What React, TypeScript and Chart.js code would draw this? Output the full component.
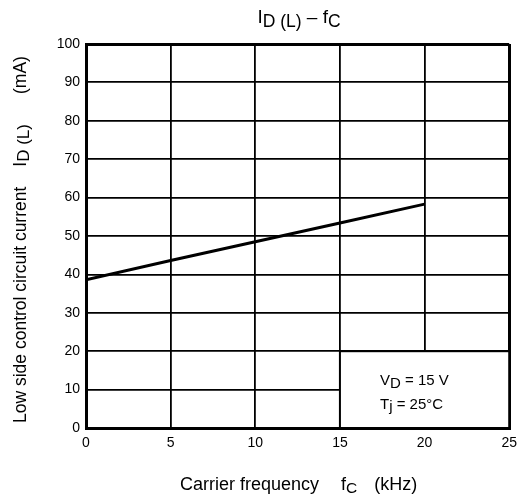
import React, { useEffect, useRef } from "react";
import { Chart, registerables } from "chart.js";
Chart.register(...registerables);

const freqKHz = [0, 5, 10, 15, 20];
const currentMA = [38.6, 43.6, 48.5, 53.4, 58.3];
const xTicks = [0, 5, 10, 15, 20, 25];
const yTicks = [0, 10, 20, 30, 40, 50, 60, 70, 80, 90, 100];

const FONT = "Liberation Sans, Arial, sans-serif";

type Seg = { t?: string; sub?: boolean; gap?: number };

function segsWidth(ctx: CanvasRenderingContext2D, segs: Seg[], size: number, subSize: number) {
  let total = 0;
  for (const s of segs) {
    if (s.gap !== undefined) { total += s.gap; continue; }
    ctx.font = `${s.sub ? subSize : size}px ${FONT}`;
    total += ctx.measureText(s.t!).width;
  }
  return total;
}

function drawSegs(ctx: CanvasRenderingContext2D, segs: Seg[], x: number, y: number, size: number, subSize: number, subOff: number, align: "left" | "center") {
  let cx = align === "center" ? x - segsWidth(ctx, segs, size, subSize) / 2 : x;
  ctx.textAlign = "left";
  ctx.textBaseline = "alphabetic";
  for (const s of segs) {
    if (s.gap !== undefined) { cx += s.gap; continue; }
    ctx.font = `${s.sub ? subSize : size}px ${FONT}`;
    ctx.fillText(s.t!, cx, s.sub ? y + subOff : y);
    cx += ctx.measureText(s.t!).width;
  }
}

const textPlugin = {
  id: "textPlugin",
  afterDraw(chart: any) {
    const ctx: CanvasRenderingContext2D = chart.ctx;
    const xs = chart.scales.x;
    const ys = chart.scales.y;
    ctx.save();
    ctx.fillStyle = "#000";
    // title
    drawSegs(ctx, [{ t: "I" }, { t: "D (L)", sub: true }, { t: " \u2013 f" }, { t: "C", sub: true }], 299, 23, 19, 17.5, 4, "center");
    // x label
    drawSegs(ctx, [{ t: "Carrier frequency" }, { gap: 22 }, { t: "f" }, { t: "C", sub: true }, { gap: 17 }, { t: "(kHz)" }], 180, 490, 18, 15.5, 3, "left");
    // y label
    ctx.save();
    ctx.translate(26, 423);
    ctx.rotate(-Math.PI / 2);
    drawSegs(ctx, [{ t: "Low side control circuit current" }, { gap: 20 }, { t: "I" }, { t: "D (L)", sub: true }, { gap: 30 }, { t: "(mA)" }], 0, 0, 17.5, 17, 3, "left");
    ctx.restore();
    // condition box
    const bx0 = xs.getPixelForValue(15);
    const bx1 = xs.getPixelForValue(25);
    const by0 = ys.getPixelForValue(20);
    const by1 = ys.getPixelForValue(0);
    ctx.fillStyle = "#fff";
    ctx.fillRect(bx0, by0, bx1 - bx0, by1 - by0);
    ctx.strokeStyle = "#000";
    ctx.lineWidth = 2;
    ctx.strokeRect(bx0, by0, bx1 - bx0, by1 - by0);
    ctx.fillStyle = "#000";
    drawSegs(ctx, [{ t: "V" }, { t: "D", sub: true }, { t: " = 15 V" }], 380, 385, 15, 15, 3, "left");
    drawSegs(ctx, [{ t: "T" }, { t: "j", sub: true }, { t: " = 25\u00B0C" }], 380, 409, 15, 15, 2, "left");
    ctx.restore();
  },
};

export default function App() {
  const ref = useRef<HTMLCanvasElement>(null);
  useEffect(() => {
    document.body.style.margin = "0";
    const chart = new Chart(ref.current!, {
      type: "line",
      data: {
        datasets: [
          {
            data: freqKHz.map((f, i) => ({ x: f, y: currentMA[i] })),
            borderColor: "#000",
            borderWidth: 3,
            pointRadius: 0,
            tension: 0,
          },
        ],
      },
      options: {
        animation: false,
        responsive: false,
        devicePixelRatio: 1,
        layout: { padding: { left: 0, top: 44, right: 12, bottom: 0 } },
        plugins: { legend: { display: false }, title: { display: false }, tooltip: { enabled: false } },
        scales: {
          x: {
            type: "linear",
            min: 0,
            max: 25,
            afterFit: (s: any) => { s.height = 74; },
            afterBuildTicks: (s: any) => { s.ticks = xTicks.map((v) => ({ value: v })); },
            grid: {
              color: "#000",
              lineWidth: (c: any) => (c.tick && (c.tick.value === 0 || c.tick.value === 25) ? 3 : 1.8),
              drawTicks: false,
            },
            border: { display: true, color: "#000", width: 3 },
            ticks: { color: "#000", font: { family: FONT, size: 14 }, padding: 7, maxRotation: 0 },
          },
          y: {
            type: "linear",
            min: 0,
            max: 100,
            afterFit: (s: any) => { s.width = 86; },
            afterBuildTicks: (s: any) => { s.ticks = yTicks.map((v) => ({ value: v })); },
            grid: {
              color: "#000",
              lineWidth: (c: any) => (c.tick && (c.tick.value === 0 || c.tick.value === 100) ? 3 : 1.8),
              drawTicks: false,
            },
            border: { display: true, color: "#000", width: 3 },
            ticks: { color: "#000", font: { family: FONT, size: 14 }, padding: 6 },
          },
        },
      },
      plugins: [textPlugin],
    } as any);
    return () => chart.destroy();
  }, []);
  return <canvas ref={ref} width={524} height={502} style={{ display: "block" }} />;
}
